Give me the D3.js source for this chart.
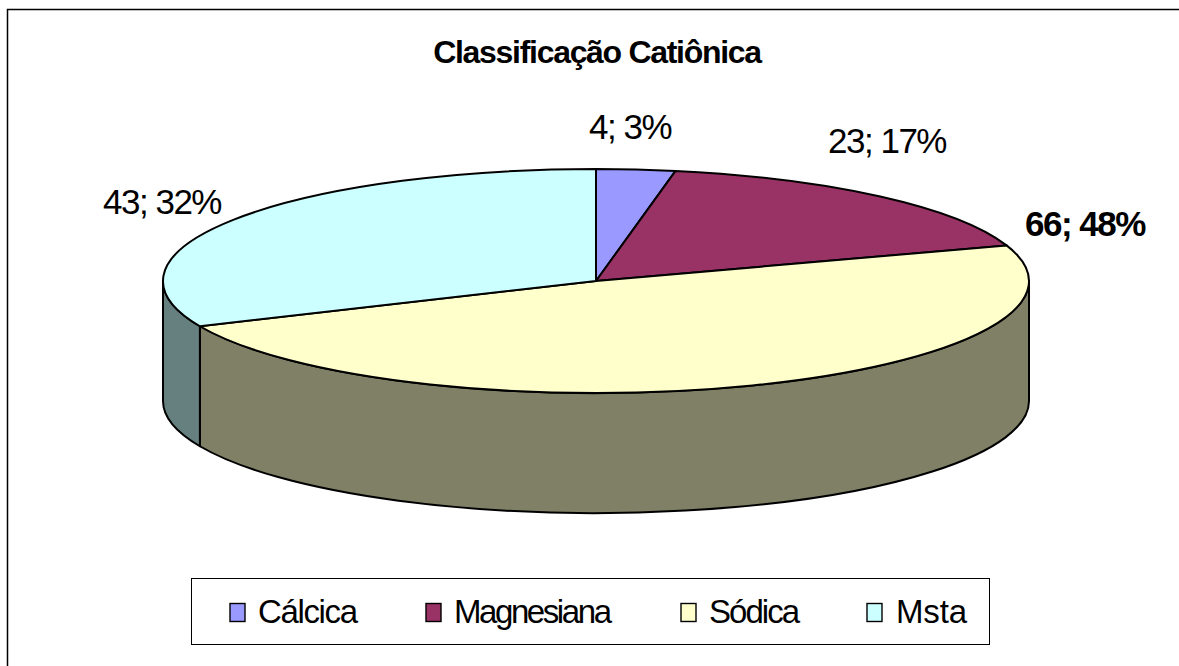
<!DOCTYPE html>
<html><head><meta charset="utf-8">
<script src="https://cdn.jsdelivr.net/npm/d3@7/dist/d3.min.js"></script>
<style>html,body{margin:0;padding:0;background:#fff}svg{display:block}text{font-family:"Liberation Sans",Arial,sans-serif;fill:#000}</style>
</head><body><svg id="c" width="1179" height="666"></svg>
<script>
const categories = ["Cálcica","Magnesiana","Sódica","Msta"];
const values = [4,23,66,43];
const labels = ["4; 3%","23; 17%","66; 48%","43; 32%"];
const topColors = ["#9999ff","#993366","#ffffcc","#ccffff"];
const sideColors = ["#666699","#662244","#808066","#668080"];
const boldLabel = [false,false,true,false];
const labelPos = [[630,139],[887,153],[1085,236],[162,214]];

const svg = d3.select("#c");
svg.append("path").attr("d","M7.5,666V9.5H1179").attr("fill","none").attr("stroke","#000").attr("stroke-width",1.5);

const cx=596, cy=281, rx=433, ry=112, depth=120;
const pie = d3.pie().sort(null).value(d=>d)(values);
const px = a => cx + rx*Math.sin(a), py = a => cy - ry*Math.cos(a);

pie.forEach((s,i)=>{
  const a0=Math.max(s.startAngle,Math.PI/2), a1=Math.min(s.endAngle,3*Math.PI/2);
  if(a1<=a0) return;
  const d=`M${px(a0)},${py(a0)}A${rx},${ry} 0 ${a1-a0>Math.PI?1:0} 1 ${px(a1)},${py(a1)}`+
    `V${py(a1)+depth}A${rx},${ry} 0 ${a1-a0>Math.PI?1:0} 0 ${px(a0)},${py(a0)+depth}Z`;
  svg.append("path").attr("d",d).attr("fill",sideColors[i]).attr("stroke","#000").attr("stroke-width",2).attr("stroke-linejoin","round");
});
pie.forEach((s,i)=>{
  const a0=s.startAngle,a1=s.endAngle;
  const d=`M${cx},${cy}L${px(a0)},${py(a0)}A${rx},${ry} 0 ${a1-a0>Math.PI?1:0} 1 ${px(a1)},${py(a1)}Z`;
  svg.append("path").attr("d",d).attr("fill",topColors[i]).attr("stroke","#000").attr("stroke-width",2).attr("stroke-linejoin","round");
});
svg.append("text").attr("x",597).attr("y",63).attr("text-anchor","middle")
  .style("font-size","32px").style("font-weight","bold").style("letter-spacing","-1.3px").text("Classificação Catiônica");
labels.forEach((t,i)=>{
  svg.append("text").attr("x",labelPos[i][0]).attr("y",labelPos[i][1]).attr("text-anchor","middle")
    .style("font-size","35px").style("font-weight",boldLabel[i]?"bold":"normal").style("letter-spacing","-1.5px").text(t);
});
svg.append("rect").attr("x",191.5).attr("y",578.5).attr("width",798).attr("height",66).attr("fill","#fff").attr("stroke","#000").attr("stroke-width",1);
const swatchX=[230,426,681,867], textX=[258,454,709,896], textW=[100,158,91,71];
categories.forEach((c,i)=>{
  svg.append("rect").attr("x",swatchX[i]).attr("y",603.5).attr("width",15).attr("height",18).attr("fill",topColors[i]).attr("stroke","#000").attr("stroke-width",1.4);
  svg.append("text").attr("x",textX[i]).attr("y",623).attr("textLength",textW[i]).attr("lengthAdjust","spacing").style("font-size","33px").text(c);
});
</script></body></html>
